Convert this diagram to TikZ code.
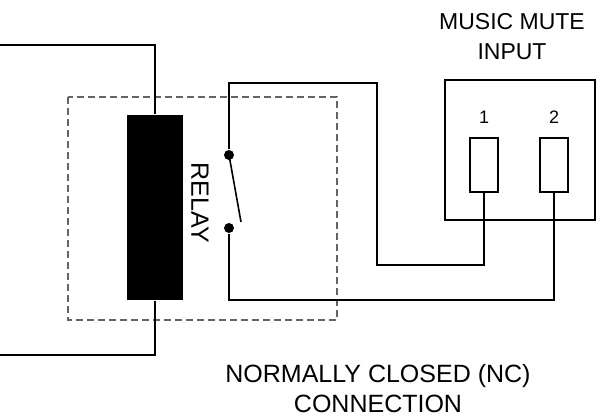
\documentclass[tikz,border=0pt]{standalone}
\usepackage{fontspec}
\setmainfont{Liberation Sans}
\usetikzlibrary{positioning}
\tikzset{every picture/.style={line width=1.6pt}}
\begin{document}
\begin{tikzpicture}[x=1pt,y=1pt,yscale=-1,xscale=1]
        \useasboundingbox (0,0) rectangle (601,418);
        \tikzset{txt/.style={font=\fontsize{25}{28}\selectfont,inner sep=0.75pt},
                 term/.style={draw,minimum width=28pt,minimum height=54pt,inner sep=0pt},
                 pin/.style={circle,fill,inner sep=0pt,minimum size=10pt}}

        %Shape: Dashed box
        \draw [dash pattern=on 7pt off 4pt,line width=1.3pt,color={rgb, 255:red, 100; green, 100; blue, 100 }] (68,97) rectangle (337,320);
        %Shape: Coil
        \node (coil) [fill=black,minimum width=56pt,minimum height=185pt,inner sep=0pt] at (155,207.5) {};
        %Shape: Input box
        \node (inbox) [draw,minimum width=150pt,minimum height=140pt,inner sep=0pt] at (520,150) {};
        \node (t1) [term] at (484,165) {};
        \node (t2) [term] at (554,165) {};
        \node (c1) [pin] at (229,155) {};
        \node (c2) [pin] at (229,228) {};
        \coordinate (a) at (0,45);
        \coordinate (b) at (0,355);

        %Straight Lines
        \draw (a) -- (155,45) -- (coil.north);
        \draw (coil.south) -- (155,355) -- (b);
        \draw (c1) -- (229,83) -- (377,83) -- (377,265) -- (t1.south |- 0,265) -- (t1.south);
        \draw (c2) -- (229,300) -- (554,300) -- (t2.south);
        \draw (c1.center) -- (241,222);

        % Text Node
        \node [txt,rotate=-90] at (200,203) {RELAY};
        \node [txt,font=\fontsize{18}{20}\selectfont,above=12pt of t1] {1};
        \node [txt,font=\fontsize{18}{20}\selectfont,above=12pt of t2] {2};
        \node [txt,font=\fontsize{23}{26}\selectfont] at (512,22) {MUSIC MUTE};
        \node [txt,font=\fontsize{23}{26}\selectfont] at (512,52) {INPUT};
        \node [txt] at (378,376) {NORMALLY CLOSED (NC)};
        \node [txt] at (378,404) {CONNECTION};
\end{tikzpicture}
\end{document}
